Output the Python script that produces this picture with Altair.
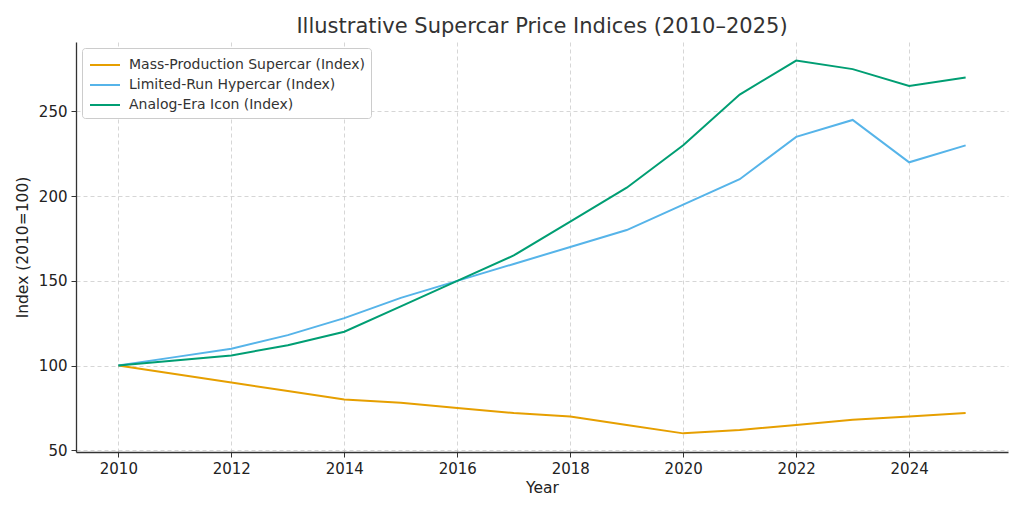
import altair as alt
import pandas as pd

years = list(range(2010, 2026))
series_names = ["Mass-Production Supercar (Index)", "Limited-Run Hypercar (Index)", "Analog-Era Icon (Index)"]
mass = [100, 95, 90, 85, 80, 78, 75, 72, 70, 65, 60, 62, 65, 68, 70, 72]
limited = [100, 105, 110, 118, 128, 140, 150, 160, 170, 180, 195, 210, 235, 245, 220, 230]
analog = [100, 103, 106, 112, 120, 135, 150, 165, 185, 205, 230, 260, 280, 275, 265, 270]
colors = ["#E69F00", "#56B4E9", "#009E73"]
x_ticks = [2010, 2012, 2014, 2016, 2018, 2020, 2022, 2024]
y_ticks = [50, 100, 150, 200, 250]

rows = []
for name, vals in zip(series_names, [mass, limited, analog]):
    for y, v in zip(years, vals):
        rows.append({"Year": y, "Index": v, "Series": name})
df = pd.DataFrame(rows)

font = "DejaVu Sans"

chart = alt.Chart(df).mark_line(strokeWidth=2, clip=True).encode(
    x=alt.X("Year:Q", title="Year",
            scale=alt.Scale(domain=[2009.25, 2025.75], nice=False, zero=False),
            axis=alt.Axis(values=x_ticks, format="d", labelFlush=False)),
    y=alt.Y("Index:Q", title="Index (2010=100)",
            scale=alt.Scale(domain=[49, 291], nice=False, zero=False),
            axis=alt.Axis(values=y_ticks, format="d", titlePadding=8)),
    color=alt.Color("Series:N", title=None,
                    scale=alt.Scale(domain=series_names, range=colors),
                    sort=series_names,
                    legend=alt.Legend(orient="top-left", offset=6,
                                      symbolType="M-1.5,0H1.5", symbolStrokeWidth=2,
                                      symbolSize=400, symbolOffset=6,
                                      labelFontSize=14,
                                      labelFont=font, labelColor="#333333",
                                      labelLimit=0,
                                      strokeColor="#cccccc", fillColor="white",
                                      padding=6, cornerRadius=3, rowPadding=2,
                                      labelOffset=13)),
    order=alt.Order("Year:Q"),
).properties(
    width=932, height=410,
    title=alt.TitleParams("Illustrative Supercar Price Indices (2010–2025)",
                          fontSize=21, font=font, fontWeight="normal",
                          color="#333333", offset=5),
    autosize=alt.AutoSizeParams(type="none"),
    padding={"left": 68, "top": 34, "right": 8, "bottom": 52},
).configure_view(stroke=None).configure_axis(
    labelFont=font, titleFont=font, labelFontSize=15, titleFontSize=15.5,
    titleFontWeight="normal", labelColor="#222222", titleColor="#222222",
    gridColor="#cccccc", gridDash=[4, 3], gridWidth=0.8,
    domainColor="#333333", domainWidth=1.3, tickColor="#333333", tickSize=5,
    labelPadding=4,
)

chart.save("out.html", embed_options={"renderer": "svg", "actions": False})
